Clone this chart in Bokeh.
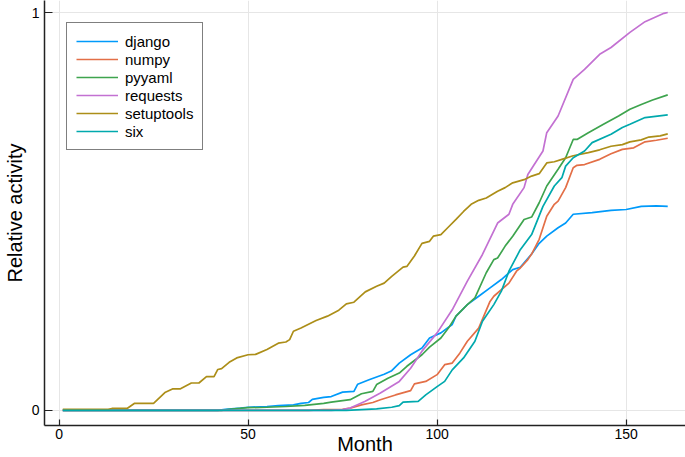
from bokeh.plotting import figure
from bokeh.models import FixedTicker, Range1d
from bokeh.embed import file_html
from bokeh.resources import INLINE

series_names = ["django", "numpy", "pyyaml", "requests", "setuptools", "six"]
series_colors = ["#009AFA", "#E36F47", "#3EA44E", "#C371D2", "#AC8E18", "#00A9AD"]

django_month = [1, 42, 44, 48, 50, 55, 58, 62, 64, 66, 67, 70, 72, 75, 78, 79, 82, 86, 88, 90,
                93, 96, 98, 101, 104, 105, 108, 111, 114, 117, 120, 122, 125, 127, 129, 132,
                134, 136, 141, 146, 150, 154, 158, 161]
django_value = [0, 0, 0.003, 0.006, 0.008, 0.010, 0.012, 0.014, 0.018, 0.020, 0.028, 0.033,
                0.035, 0.046, 0.048, 0.066, 0.077, 0.091, 0.100, 0.119, 0.140, 0.157, 0.182,
                0.195, 0.216, 0.237, 0.266, 0.287, 0.308, 0.329, 0.354, 0.360, 0.393, 0.420,
                0.438, 0.459, 0.471, 0.493, 0.497, 0.503, 0.505, 0.513, 0.514, 0.513]

numpy_month = [1, 66, 70, 75, 77, 80, 83, 85, 89, 93, 94, 97, 100, 102, 104, 106, 108, 111,
               114, 115, 119, 121, 122, 124, 125, 127, 129, 131, 132, 134, 136, 137, 139, 143,
               146, 149, 152, 155, 158, 161]
numpy_value = [0, 0, 0.002, 0.003, 0.006, 0.014, 0.020, 0.027, 0.039, 0.050, 0.067, 0.073,
               0.090, 0.115, 0.119, 0.144, 0.174, 0.207, 0.274, 0.287, 0.320, 0.350, 0.358,
               0.379, 0.393, 0.430, 0.488, 0.518, 0.526, 0.560, 0.610, 0.616, 0.618, 0.631,
               0.645, 0.656, 0.660, 0.675, 0.679, 0.684]

pyyaml_month = [1, 43, 45, 50, 55, 60, 65, 70, 72, 77, 80, 83, 84, 87, 90, 92, 96, 98, 101,
                103, 105, 108, 110, 113, 115, 116, 118, 120, 123, 125, 127, 129, 132, 134, 136,
                137, 140, 144, 148, 151, 154, 157, 161]
pyyaml_value = [0, 0, 0.003, 0.007, 0.008, 0.010, 0.013, 0.018, 0.021, 0.027, 0.042, 0.048,
                0.065, 0.081, 0.094, 0.111, 0.140, 0.159, 0.182, 0.207, 0.237, 0.266, 0.283,
                0.346, 0.379, 0.383, 0.413, 0.438, 0.480, 0.486, 0.522, 0.564, 0.606, 0.635,
                0.681, 0.681, 0.698, 0.719, 0.740, 0.757, 0.769, 0.780, 0.793]

requests_month = [1, 72, 75, 77, 81, 85, 90, 93, 96, 100, 104, 108, 112, 116, 119, 120, 123,
                  124, 128, 129, 132, 136, 139, 143, 146, 151, 155, 160, 161]
requests_value = [0, 0, 0.002, 0.006, 0.023, 0.044, 0.073, 0.106, 0.149, 0.195, 0.253, 0.325,
                  0.392, 0.471, 0.493, 0.518, 0.560, 0.593, 0.652, 0.698, 0.740, 0.832, 0.857,
                  0.895, 0.912, 0.950, 0.977, 0.998, 1.0]

setuptools_month = [1, 13, 14, 18, 20, 25, 28, 30, 32, 35, 37, 39, 41, 42, 43, 45, 47, 50, 52,
                    55, 58, 60, 61, 62, 64, 68, 71, 74, 76, 78, 81, 84, 86, 88, 91, 92, 94, 96,
                    98, 99, 101, 103, 105, 107, 109, 111, 113, 116, 118, 120, 123, 125, 127,
                    129, 131, 133, 136, 140, 143, 146, 149, 151, 154, 156, 159, 161]
setuptools_value = [0.003, 0.003, 0.005, 0.005, 0.018, 0.018, 0.045, 0.054, 0.054, 0.069,
                    0.069, 0.085, 0.085, 0.103, 0.105, 0.121, 0.132, 0.140, 0.141, 0.153,
                    0.169, 0.172, 0.178, 0.199, 0.207, 0.226, 0.237, 0.252, 0.268, 0.272,
                    0.298, 0.312, 0.320, 0.337, 0.360, 0.362, 0.388, 0.420, 0.425, 0.438,
                    0.442, 0.461, 0.480, 0.500, 0.518, 0.528, 0.534, 0.551, 0.560, 0.572,
                    0.580, 0.589, 0.595, 0.622, 0.625, 0.631, 0.640, 0.648, 0.655, 0.664,
                    0.668, 0.675, 0.680, 0.687, 0.690, 0.695]

six_month = [1, 76, 80, 84, 88, 90, 91, 95, 97, 100, 102, 104, 107, 110, 112, 115, 117, 119,
             122, 125, 128, 131, 133, 134, 136, 139, 141, 146, 149, 151, 155, 161]
six_value = [0, 0, 0.002, 0.004, 0.008, 0.012, 0.021, 0.023, 0.039, 0.060, 0.073, 0.102,
             0.132, 0.174, 0.224, 0.266, 0.300, 0.350, 0.404, 0.442, 0.513, 0.564, 0.585,
             0.614, 0.635, 0.652, 0.673, 0.694, 0.711, 0.719, 0.736, 0.743]

x_ticks = [0, 50, 100, 150]
y_ticks = [0, 1]
x_label = "Month"
y_label = "Relative activity"

series_months = [django_month, numpy_month, pyyaml_month, requests_month, setuptools_month, six_month]
series_values = [django_value, numpy_value, pyyaml_value, requests_value, setuptools_value, six_value]

FONT = "Liberation Sans"

p = figure(width=685, height=457, output_backend="svg", toolbar_location=None,
           x_range=Range1d(-3.84, 165.7), y_range=Range1d(-0.0378, 1.0302),
           min_border_left=0, min_border_right=0, min_border_top=0, min_border_bottom=0)
p.outline_line_color = None
p.background_fill_color = "white"
p.border_fill_color = "white"

for name, color, xs, ys in zip(series_names, series_colors, series_months, series_values):
    p.line(xs, ys, line_color=color, line_width=1.7, legend_label=name)

for ax, ticks in ((p.xaxis, x_ticks), (p.yaxis, y_ticks)):
    ax.ticker = FixedTicker(ticks=ticks)
    ax.major_tick_out = 0
    ax.minor_tick_in = 0
    ax.minor_tick_out = 0
    ax.major_tick_line_color = "#222222"
    ax.major_tick_line_width = 1.2
    ax.axis_line_color = "#222222"
    ax.axis_line_width = 1.5
    ax.major_label_text_font = FONT
    ax.major_label_text_font_size = "14px"
    ax.major_label_text_color = "black"
    ax.axis_label_text_font = FONT
    ax.axis_label_text_font_size = "20px"
    ax.axis_label_text_font_style = "normal"
    ax.axis_label_text_color = "black"

p.xaxis.axis_label = x_label
p.yaxis.axis_label = y_label
p.xaxis.major_tick_in = 6
p.yaxis.major_tick_in = 8
p.xaxis.major_label_standoff = 3
p.xaxis.axis_label_standoff = -9
p.yaxis.major_label_standoff = 5
p.yaxis.axis_label_standoff = 3

p.xgrid.ticker = FixedTicker(ticks=x_ticks)
p.ygrid.ticker = FixedTicker(ticks=y_ticks)
for g in (p.xgrid, p.ygrid):
    g.grid_line_color = "#e6e6e6"
    g.grid_line_width = 1

lg = p.legend[0]
lg.location = "top_left"
lg.margin = 22
lg.padding = 9
lg.spacing = 0
lg.glyph_width = 42
lg.glyph_height = 18
lg.label_height = 18
lg.label_standoff = 7
lg.label_text_font = FONT
lg.label_text_font_size = "15px"
lg.label_text_color = "black"
lg.border_line_color = "black"
lg.border_line_width = 1
lg.background_fill_color = "white"
lg.background_fill_alpha = 1.0

open("out.html", "w").write(file_html(p, INLINE))
